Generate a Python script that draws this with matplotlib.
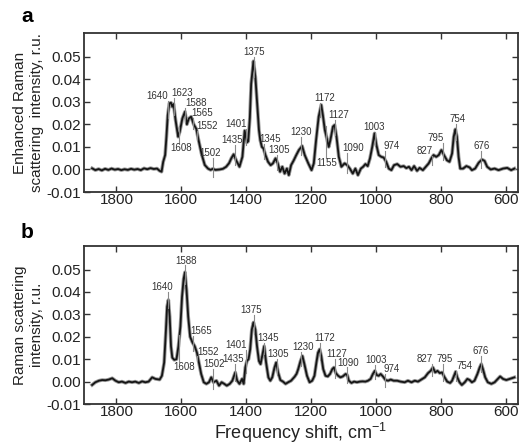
import numpy as np
import matplotlib
matplotlib.use('Agg')
import matplotlib.pyplot as plt
from matplotlib.ticker import FormatStrFormatter

plt.rcParams['font.family'] = ['Liberation Sans', 'DejaVu Sans']
plt.rcParams['axes.unicode_minus'] = False

# panel a: enhanced Raman spectrum
wn_a = [1875, 1865, 1855, 1845, 1835, 1825, 1815, 1805, 1795, 1785, 1775, 1765, 1755, 1745,
        1735, 1725, 1715, 1705, 1695, 1685, 1675, 1667, 1661, 1656, 1650, 1646, 1642, 1637,
        1632, 1628, 1624, 1618, 1610, 1605, 1597, 1589, 1583, 1577, 1570, 1562, 1554, 1547,
        1538, 1528, 1518, 1510, 1503, 1495, 1482, 1472, 1462, 1453, 1446, 1439, 1431, 1421,
        1412, 1405, 1398, 1394, 1389, 1385, 1378, 1372, 1366, 1361, 1357, 1352, 1347, 1341,
        1333, 1325, 1318, 1310, 1303, 1296, 1289, 1282, 1275, 1269, 1262, 1254, 1246, 1238,
        1228, 1220, 1209, 1199, 1192, 1185, 1177, 1169, 1164, 1158, 1153, 1146, 1141, 1133,
        1128, 1122, 1115, 1107, 1097, 1089, 1081, 1072, 1064, 1056, 1047, 1040, 1033, 1026,
        1019, 1012, 1005, 999, 992, 984, 977, 969, 961, 953, 945, 935, 925, 915, 907, 899,
        891, 883, 874, 866, 856, 847, 838, 830, 823, 815, 807, 799, 791, 782, 774, 766, 761,
        756, 751, 746, 741, 732, 722, 712, 705, 695, 684, 674, 666, 658, 647, 635, 623, 609,
        596, 584, 574]
int_a = [0.0005, -0.0003, 0.0002, -0.0004, 0.0003, -0.0002, 0.0004, -0.0001, 0.0002, -0.0003,
         0.0001, -0.0002, 0.0003, -0.0001, 0.0002, -0.0003, 0.0005, 0.0001, 0.0006, 0.0002,
         0.0004, -0.0006, -0.001, 0.0034, 0.0064, 0.0145, 0.024, 0.0293, 0.0296, 0.0278,
         0.029, 0.022, 0.0145, 0.0167, 0.0226, 0.0256, 0.020, 0.0226, 0.0234, 0.020, 0.018,
         0.013, 0.007, 0.002, 0.0004, -0.0002, 0.0003, -0.0002, 0.0, 0.0003, 0.0012, 0.0028,
         0.005, 0.0067, 0.004, 0.0012, 0.0056, 0.0172, 0.012, 0.0125, 0.023, 0.038, 0.048,
         0.041, 0.0278, 0.0175, 0.013, 0.010, 0.0093, 0.0064, 0.0034, 0.0019, 0.0027, 0.0049,
         0.0027, -0.001, 0.0012, -0.0018, 0.0004, -0.0025, 0.0019, 0.004, 0.0064, 0.0086,
         0.0104, 0.0064, 0.0027, -0.0003, 0.0027, 0.013, 0.0234, 0.0286, 0.024, 0.0175, 0.0145,
         0.010, 0.013, 0.019, 0.0197, 0.0145, 0.0056, 0.0012, 0.0027, 0.0019, 0.0004, -0.0018,
         0.0004, -0.0025, 0.0004, 0.0012, 0.0024, 0.0015, 0.0049, 0.010, 0.016, 0.0108, 0.0064,
         0.0056, 0.0053, 0.0034, 0.0004, -0.0003, 0.0019, 0.0024, 0.0012, 0.0015, 0.0006,
         0.0012, -0.0003, 0.0015, -0.0006, 0.0007, -0.0003, 0.0012, 0.0027, 0.0049, 0.0064,
         0.0056, 0.0064, 0.0086, 0.0064, 0.0041, 0.0034, 0.0071, 0.0145, 0.0178, 0.0145,
         0.0056, 0.0004, 0.0004, 0.0015, 0.0009, -0.0003, 0.0004, 0.003, 0.0044, 0.0038,
         0.0012, 0.0, 0.0004, -0.0003, 0.0004, 0.0007, -0.0003, 0.0004]

# panel b: Raman spectrum
wn_b = [1875, 1865, 1854, 1844, 1834, 1824, 1813, 1803, 1793, 1783, 1772, 1762, 1752, 1742,
        1731, 1721, 1711, 1701, 1690, 1680, 1667, 1660, 1653, 1648, 1644, 1640, 1636, 1632,
        1628, 1622, 1615, 1609, 1603, 1598, 1593, 1589, 1584, 1579, 1573, 1566, 1559, 1552,
        1546, 1539, 1531, 1523, 1515, 1508, 1501, 1492, 1484, 1476, 1468, 1460, 1451, 1443,
        1434, 1428, 1421, 1413, 1408, 1403, 1398, 1393, 1388, 1383, 1378, 1372, 1367, 1361,
        1356, 1351, 1345, 1339, 1332, 1326, 1320, 1313, 1308, 1302, 1295, 1287, 1279, 1271,
        1262, 1251, 1245, 1240, 1233, 1227, 1221, 1213, 1205, 1197, 1190, 1184, 1179, 1174,
        1169, 1163, 1156, 1149, 1142, 1135, 1130, 1124, 1117, 1110, 1103, 1094, 1089, 1084,
        1076, 1068, 1059, 1050, 1042, 1033, 1025, 1017, 1010, 1004, 998, 992, 986, 979, 971,
        963, 955, 946, 935, 925, 912, 902, 891, 881, 871, 861, 850, 840, 832, 825, 818, 811,
        804, 797, 789, 781, 772, 766, 760, 755, 750, 743, 736, 727, 719, 712, 705, 697, 688,
        681, 676, 671, 664, 656, 645, 635, 625, 618, 609, 599, 589, 574]
int_b = [-0.0015, -0.0003, 0.0004, 0.0007, 0.0006, 0.0009, 0.0015, 0.0004, -0.0003, 0.0,
         -0.0006, 0.0, -0.0003, 0.0, -0.0006, 0.0001, -0.0003, 0.0, 0.0019, 0.0012, 0.0009,
         0.0026, 0.0085, 0.0217, 0.0334, 0.0364, 0.029, 0.0158, 0.0107, 0.0097, 0.010, 0.0158,
         0.0246, 0.0378, 0.0459, 0.0488, 0.0408, 0.029, 0.020, 0.0175, 0.0158, 0.0129, 0.0085,
         0.0034, -0.0003, -0.001, -0.0003, 0.0019, -0.0003, 0.0004, -0.0018, -0.0003, -0.001,
         -0.0018, -0.001, 0.0004, 0.0041, 0.0004, -0.001, 0.0012, -0.001, 0.0063, 0.0092,
         0.010, 0.0144, 0.0232, 0.0264, 0.0232, 0.0158, 0.0092, 0.0078, 0.0114, 0.0158,
         0.0085, 0.0019, 0.0004, 0.0019, 0.0063, 0.0085, 0.0041, 0.0007, 0.0, -0.001, -0.0003,
         0.0004, 0.0022, 0.0035, 0.0056, 0.0092, 0.0114, 0.0078, 0.0026, -0.0003, 0.0004,
         0.0026, 0.0085, 0.0129, 0.0144, 0.0114, 0.0056, 0.0026, 0.0023, 0.0034, 0.0056,
         0.0063, 0.0038, 0.0026, 0.0019, 0.0023, 0.0034, 0.0029, 0.0004, -0.0006, 0.0,
         -0.0003, 0.0, 0.0001, 0.0, 0.0004, 0.0012, 0.0034, 0.0048, 0.0029, 0.0026, 0.0034,
         0.0023, 0.0007, 0.0004, 0.0009, 0.0004, 0.0004, 0.0, -0.0003, 0.0004, -0.0003,
         0.0004, 0.0, 0.0009, 0.0019, 0.0038, 0.0048, 0.0063, 0.0041, 0.0048, 0.0038, 0.0041,
         0.0019, 0.0, -0.0006, 0.0004, 0.0026, 0.0044, 0.0019, -0.0003, -0.0015, -0.0003,
         0.0012, 0.0007, -0.0003, 0.0004, 0.0034, 0.0063, 0.0078, 0.0056, 0.0019, -0.0003,
         -0.001, -0.0003, 0.0012, 0.0023, 0.0012, 0.0007, 0.0012, 0.0019]

# peak labels: text, band position, label x, label y, alignment
peaks_a = [('1640', 1640, 1640, 0.0325, 'right'), ('1623', 1623, 1598, 0.0340, 'center'),
           ('1588', 1588, 1556, 0.0296, 'center'), ('1565', 1565, 1535, 0.0251, 'center'),
           ('1552', 1552, 1521, 0.0194, 'center'), ('1608', 1608, 1600, 0.0096, 'center'),
           ('1502', 1502, 1511, 0.0074, 'center'), ('1435', 1435, 1443, 0.0129, 'center'),
           ('1401', 1401, 1433, 0.0200, 'center'), ('1375', 1375, 1377, 0.0522, 'center'),
           ('1345', 1345, 1328, 0.0133, 'center'), ('1305', 1305, 1298, 0.0086, 'center'),
           ('1230', 1230, 1231, 0.0167, 'center'), ('1172', 1172, 1159, 0.0315, 'center'),
           ('1155', 1155, 1152, 0.0027, 'center'), ('1127', 1127, 1116, 0.0241, 'center'),
           ('1090', 1090, 1072, 0.0093, 'center'), ('1003', 1003, 1005, 0.0189, 'center'),
           ('974', 974, 951, 0.0103, 'center'), ('827', 827, 851, 0.0081, 'center'),
           ('795', 795, 818, 0.0138, 'center'), ('754', 754, 749, 0.0223, 'center'),
           ('676', 676, 674, 0.0105, 'center')]
peaks_b = [('1640', 1640, 1660, 0.0422, 'center'), ('1588', 1588, 1585, 0.0540, 'center'),
           ('1565', 1565, 1540, 0.0227, 'center'), ('1552', 1552, 1519, 0.0134, 'center'),
           ('1608', 1608, 1592, 0.0064, 'center'), ('1502', 1502, 1500, 0.0080, 'center'),
           ('1435', 1435, 1441, 0.0102, 'center'), ('1401', 1401, 1430, 0.0163, 'center'),
           ('1375', 1375, 1386, 0.0320, 'center'), ('1345', 1345, 1334, 0.0195, 'center'),
           ('1305', 1305, 1303, 0.0125, 'center'), ('1230', 1230, 1226, 0.0154, 'center'),
           ('1172', 1172, 1159, 0.0195, 'center'), ('1127', 1127, 1120, 0.0125, 'center'),
           ('1090', 1090, 1085, 0.0085, 'center'), ('1003', 1003, 1000, 0.0095, 'center'),
           ('974', 974, 951, 0.0056, 'center'), ('827', 827, 849, 0.0100, 'center'),
           ('795', 795, 788, 0.0100, 'center'), ('754', 754, 728, 0.0068, 'center'),
           ('676', 676, 677, 0.0136, 'center')]

fig = plt.figure(figsize=(5.23, 4.45), dpi=100)
ax_a = fig.add_axes([0.1606, 0.5685, 0.8298, 0.3573])
ax_b = fig.add_axes([0.1606, 0.0921, 0.8298, 0.3551])


def draw(ax, wn, val, peaks):
    wn = np.array(wn)
    val = np.array(val)
    ax.plot(wn, val, color='#9a9a9a', lw=2.6, solid_joinstyle='round')
    ax.plot(wn, val, color='#151515', lw=1.3)
    for txt, x, tx, ty, ha in peaks:
        yc = np.interp(x, wn[::-1], val[::-1])
        if ty > yc:
            y0, y1 = yc - 0.0035, ty - 0.0022
        else:
            y0, y1 = yc + 0.0035, ty + 0.0022
        ax.plot([x, x], [y0, y1], color='#8a8a8a', lw=0.8)
        ax.text(tx, ty, txt, fontsize=7, ha=ha, va='center', color='#333333')
    ax.set_xlim(1900, 563)
    ax.set_ylim(-0.01, 0.0605)
    ax.set_xticks([1800, 1600, 1400, 1200, 1000, 800, 600])
    ax.set_yticks([-0.01, 0.0, 0.01, 0.02, 0.03, 0.04, 0.05])
    ax.yaxis.set_major_formatter(FormatStrFormatter('%.2f'))
    ax.tick_params(direction='in', length=4, width=1, top=True, right=True,
                   labelsize=11, colors='#333333', labelcolor='#222222')
    ax.tick_params(axis='x', pad=1)
    ax.tick_params(axis='y', pad=2)
    for s in ax.spines.values():
        s.set_color('#333333')
        s.set_linewidth(1.3)


draw(ax_a, wn_a, int_a, peaks_a)
draw(ax_b, wn_b, int_b, peaks_b)

ax_a.set_ylabel('Enhanced Raman\nscattering  intensity, r.u.', fontsize=11,
                color='#222222', linespacing=1.3)
ax_b.set_ylabel('Raman scattering\nintensity, r.u.', fontsize=11,
                color='#222222', linespacing=1.3)
ax_a.yaxis.set_label_coords(-0.092, 0.5)
ax_b.yaxis.set_label_coords(-0.092, 0.5)
fig.text(0.575, 0.027, 'Frequency shift, cm$^{\\mathregular{-1}}$', fontsize=13,
         color='#222222', ha='center', va='center')

fig.text(0.052, 0.962, 'a', fontsize=15, fontweight='bold', ha='center', va='center')
fig.text(0.052, 0.478, 'b', fontsize=15, fontweight='bold', ha='center', va='center')

fig.savefig('out.png', dpi=100)
